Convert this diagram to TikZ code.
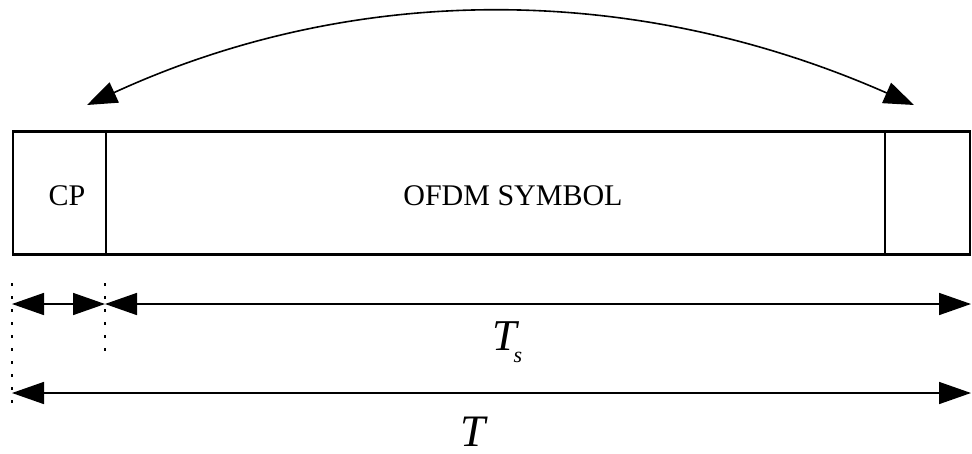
\documentclass[tikz,border=0pt]{standalone}
\usepackage{fontspec}
\setmainfont{Liberation Serif}
\usetikzlibrary{arrows.meta}
\begin{document}
\begin{tikzpicture}[x=1pt,y=-1pt,
  cell/.style={draw, line width=2.5pt, rectangle, minimum height=123pt, inner sep=0pt},
  txt/.style={inner sep=0pt, font=\fontsize{30}{30}\selectfont},
  dimarrow/.style={line width=1.6pt, {Triangle[length=32pt,width=22pt]}-{Triangle[length=32pt,width=22pt]}},
  dotline/.style={line width=1.6pt, dash pattern=on 3pt off 10pt},
  arc/.style={line width=1.6pt, {Triangle[length=30pt,width=22pt]}-{Triangle[length=30pt,width=22pt]}}]
\useasboundingbox (0,0) rectangle (972,453);
% cells
\node[cell, minimum width=93pt] (cp) at (59.5,193) {};
\node[cell, minimum width=779pt] (sym) at (495.5,193) {};
\node[cell, minimum width=85pt] (tail) at (927.5,193) {};
\node[txt, anchor=base] (cplabel) at (67,205.5) {CP};
\node[txt, anchor=base] (symlabel) at (513,205.5) {OFDM SYMBOL};
% arc
\coordinate (arcL) at (87,105);
\coordinate (arcR) at (914,105);
\draw[arc] (arcL) .. controls (355,-18) and (635,-18) .. (arcR);
% dimension coordinates
\coordinate (a0) at (12,304);
\coordinate (a1) at (105,304);
\coordinate (a2) at (971,304);
\coordinate (b0) at (12,393);
\coordinate (b1) at (971,393);
\coordinate (d0top) at (12,283);
\coordinate (d0bot) at (12,408);
\coordinate (d1top) at (105,283);
\coordinate (d1bot) at (105,354);
\draw[dotline] (d0top) -- (d0bot);
\draw[dotline] (d1top) -- (d1bot);
\draw[dimarrow] (a0) -- (a1);
\draw[dimarrow] (a1) -- (a2);
\draw[dimarrow] (b0) -- (b1);
% labels
\node[inner sep=0pt, anchor=base west] (Ts) at (492,350) {\fontsize{44}{44}\selectfont\itshape T\kern-3pt\raisebox{-12pt}{\fontsize{22}{22}\selectfont s}};
\node[inner sep=0pt, anchor=base] (T) at (473,446) {\fontsize{45}{45}\selectfont\itshape T};
\end{tikzpicture}
\end{document}
